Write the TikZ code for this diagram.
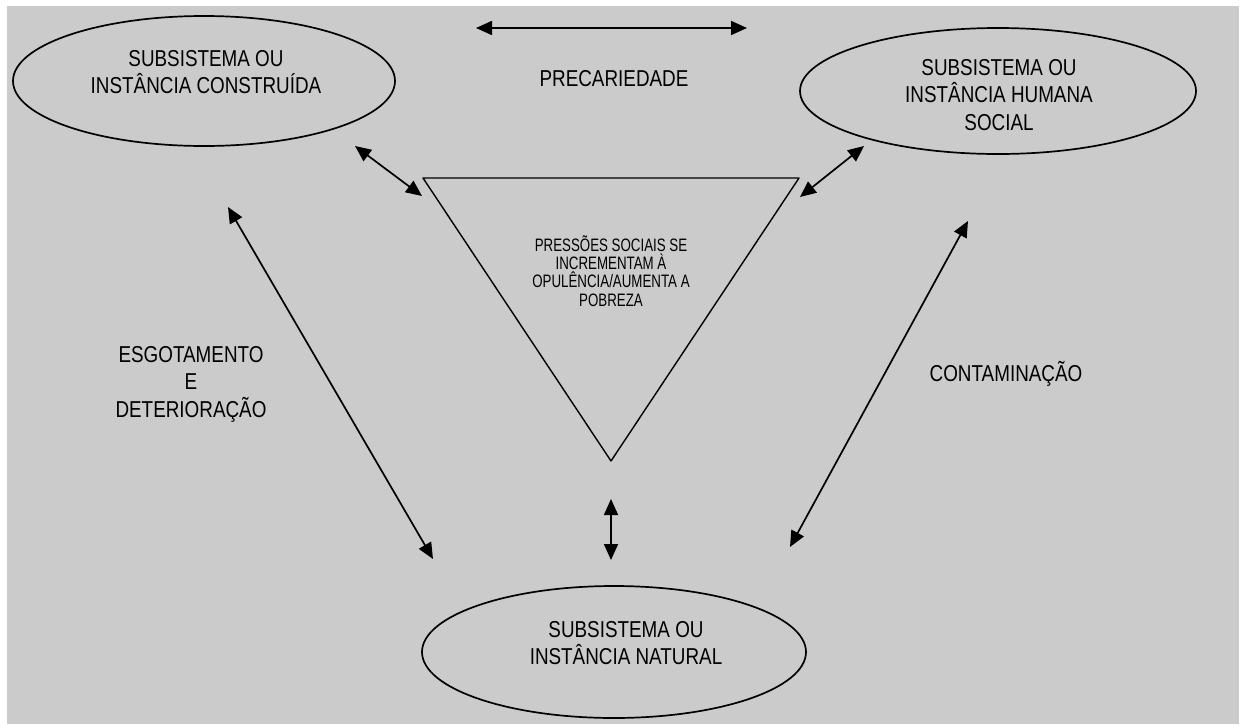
\documentclass[tikz,border=0pt]{standalone}
\usepackage{fontspec}
\setmainfont{Liberation Sans}[FakeStretch=0.82]
\newfontfamily\narrowfont{Liberation Sans}[FakeStretch=0.74]
\usetikzlibrary{arrows.meta,shapes.geometric}
\definecolor{bggray}{RGB}{203,203,203}

\begin{document}
\begin{tikzpicture}[x=1pt, y=-1pt, line join=round, >={Triangle[length=16pt,width=14pt]},
  elli/.style={draw, ellipse, line width=1.7pt, inner sep=0pt},
  lbl/.style={font=\fontsize{23}{27.5}\selectfont, align=center, inner sep=0pt},
  twoway/.style={<->, line width=1.7pt}]
\fill[white] (0,0) rectangle (1245,726);
\fill[bggray] (7,6) rectangle (1239,724);
% three subsystems
\node[elli, minimum width=382pt, minimum height=130pt] (cons) at (204,81) {};
\node[elli, minimum width=396pt, minimum height=126pt] (hum) at (998,91) {};
\node[elli, minimum width=384pt, minimum height=132pt] (nat) at (614,652) {};
\node[lbl] (consT) at (206,72) {SUBSISTEMA OU\\INSTÂNCIA CONSTRUÍDA};
\node[lbl] (humT) at (999,95) {SUBSISTEMA OU\\INSTÂNCIA HUMANA\\SOCIAL};
\node[lbl] (natT) at (626,643) {SUBSISTEMA OU\\INSTÂNCIA NATURAL};
% pressure triangle
\coordinate (tl) at (423,178);
\coordinate (tr) at (799,178);
\coordinate (tb) at (611,461);
\draw[line width=1.4pt] (tl)--(tr)--(tb)--cycle;
\node[font=\narrowfont\fontsize{18}{18.3}\selectfont, align=center, inner sep=0pt] (press) at (611,271)
  {PRESSÕES SOCIAIS SE\\INCREMENTAM À\\OPULÊNCIA/AUMENTA A\\POBREZA};
% relation labels
\node[lbl] (prec) at (614,79) {PRECARIEDADE};
\node[lbl] (esg) at (191,384) {ESGOTAMENTO\\E\\DETERIORAÇÃO};
\node[lbl] (cont) at (1006,374) {CONTAMINAÇÃO};
% arrow ends
\coordinate (p1) at (476,28);   \coordinate (p2) at (747,28);
\coordinate (a1) at (355,146);  \coordinate (a2) at (422,196);
\coordinate (b1) at (800,197);  \coordinate (b2) at (864,146);
\coordinate (c1) at (228,207);  \coordinate (c2) at (433,559);
\coordinate (d1) at (968,221);  \coordinate (d2) at (790,547);
\coordinate (e1) at (611,499);  \coordinate (e2) at (611,560);
\draw[twoway] (p1)--(p2);
\draw[twoway] (a1)--(a2);
\draw[twoway] (b1)--(b2);
\draw[twoway] (c1)--(c2);
\draw[twoway] (d1)--(d2);
\draw[twoway] (e1)--(e2);
\end{tikzpicture}
\end{document}
